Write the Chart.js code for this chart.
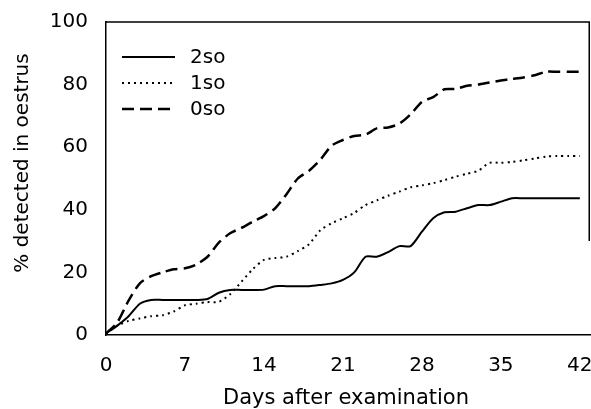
<!DOCTYPE html>
<html>
<head>
<meta charset="utf-8">
<script src="https://cdn.jsdelivr.net/npm/chart.js@4"></script>
<style>
html,body{margin:0;padding:0;background:#fff;}
#wrap{width:591px;height:409px;position:relative;}
</style>
</head>
<body>
<div id="wrap"><canvas id="c" width="591" height="409"></canvas></div>
<script>
const days = [0,1,2,3,4,5,6,7,8,9,10,11,12,13,14,15,16,17,18,19,20,21,22,23,24,25,26,27,28,29,30,31,32,33,34,35,36,37,38,39,40,41,42];
const so2 = [0.5,3,6,10,11.2,11.2,11.2,11.2,11.2,11.5,13.5,14.4,14.4,14.4,14.5,15.6,15.6,15.6,15.6,16,16.5,17.6,20,25,25,26.5,28.4,28.4,33,37.3,39.2,39.4,40.5,41.5,41.5,42.6,43.7,43.7,43.7,43.7,43.7,43.7,43.7];
const so1 = [0.5,3,4.5,5.3,6,6.3,7.5,9.5,10,10.5,10.6,13,17,21,24,24.6,25,26.8,29,33.5,35.7,37.3,39,41.5,43,44.5,45.8,47.2,47.8,48.5,49.5,50.6,51.5,52.5,55,55,55.3,55.8,56.4,57,57.2,57.2,57.2];
const so0 = [0.5,4,11,16.5,18.8,20,21,21.3,22.5,25,29.5,32.5,34.2,36.2,38,40.5,45,50,52.5,56,60.5,62.3,63.6,64,66,66.3,67.5,70.5,74.5,76,78.5,78.6,79.6,80,80.7,81.3,81.8,82.3,83,84.1,84.1,84.1,84.1];
const seriesLabels = ['2so','1so','0so'];
const xTicks = [0,7,14,21,28,35,42];
const yTicks = [0,20,40,60,80,100];
const xTitle = 'Days after examination';
const yTitle = '% detected in oestrus';

const toXY = arr => arr.map((v,i)=>({x:days[i],y:v}));
const FONT = "'DejaVu Sans', sans-serif";

const decorPlugin = {
  id:'decor',
  afterDraw(chart){
    const ctx = chart.ctx;
    const ys = [57,83,109];
    ctx.save();
    chart.data.datasets.forEach((ds,i)=>{
      ctx.beginPath();
      ctx.strokeStyle = '#000';
      ctx.lineWidth = ds.borderWidth;
      ctx.setLineDash(ds.borderDash||[]);
      ctx.lineCap = 'butt';
      ctx.moveTo(122, ys[i]);
      ctx.lineTo(175, ys[i]);
      ctx.stroke();
      ctx.setLineDash([]);
      ctx.fillStyle = '#000';
      ctx.font = '20px ' + FONT;
      ctx.textBaseline = 'middle';
      ctx.textAlign = 'left';
      ctx.fillText(ds.label, 190, ys[i]+1);
    });
    const a = chart.chartArea;
    const ysc = chart.scales.y;
    ctx.beginPath();
    ctx.lineWidth = 1.5;
    ctx.strokeStyle = '#000';
    ctx.moveTo(a.left, a.top);
    ctx.lineTo(a.right, a.top);
    ctx.moveTo(a.right - 0.75, a.top);
    ctx.lineTo(a.right - 0.75, ysc.getPixelForValue(30));
    ctx.stroke();
    ctx.fillStyle = '#000';
    ctx.font = '21px ' + FONT;
    ctx.textAlign = 'center';
    ctx.textBaseline = 'middle';
    ctx.fillText(xTitle, 346, 399);
    ctx.translate(23, 163);
    ctx.rotate(-Math.PI/2);
    ctx.font = '20px ' + FONT;
    ctx.fillText(yTitle, 0, 0);
    ctx.restore();
  }
};

new Chart(document.getElementById('c'), {
  type:'line',
  data:{
    datasets:[
      {label:seriesLabels[0], data:toXY(so2), borderColor:'#000', borderWidth:2, pointRadius:0, tension:0.25, fill:false},
      {label:seriesLabels[1], data:toXY(so1), borderColor:'#000', borderWidth:2, borderDash:[2,4], pointRadius:0, tension:0.25, fill:false},
      {label:seriesLabels[2], data:toXY(so0), borderColor:'#000', borderWidth:2.5, borderDash:[12,6], pointRadius:0, tension:0.25, fill:false}
    ]
  },
  options:{
    responsive:false,
    animation:false,
    devicePixelRatio:1,
    layout:{autoPadding:false, padding:{top:22,right:1,left:0,bottom:0}},
    plugins:{legend:{display:false},tooltip:{enabled:false}},
    scales:{
      x:{
        type:'linear', min:0, max:42.9,
        afterBuildTicks(s){ s.ticks = xTicks.map(v=>({value:v})); },
        afterFit(s){ s.height = 74; s.paddingLeft = 0; s.paddingRight = 0; },
        grid:{display:false, drawOnChartArea:false, drawTicks:true, tickLength:6, tickColor:'#000'},
        border:{display:true, color:'#000', width:1.5},
        ticks:{color:'#000', font:{family:FONT, size:20}, padding:13, maxRotation:0, autoSkip:false},
        title:{display:false}
      },
      y:{
        type:'linear', min:0, max:100,
        afterBuildTicks(s){ s.ticks = yTicks.map(v=>({value:v})); },
        afterFit(s){ s.width = 106; s.paddingTop = 0; s.paddingBottom = 0; },
        grid:{display:false, drawOnChartArea:false, drawTicks:true, tickLength:6, tickColor:'#000'},
        border:{display:true, color:'#000', width:1.5},
        ticks:{color:'#000', font:{family:FONT, size:20}, padding:12},
        title:{display:false}
      }
    }
  },
  plugins:[decorPlugin]
});
</script>
</body>
</html>
